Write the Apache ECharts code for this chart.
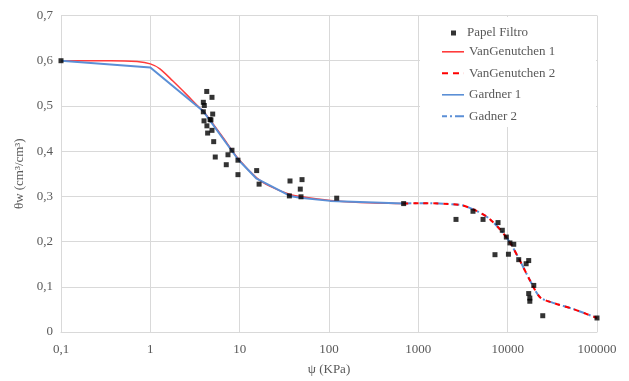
<!DOCTYPE html>
<html><head><meta charset="utf-8">
<script src="https://cdn.jsdelivr.net/npm/echarts@6/dist/echarts.min.js"></script>
<style>html,body{margin:0;padding:0;background:#fff;overflow:hidden}#c{width:629px;height:381px}</style>
</head><body><div id="c"></div>
<script>
// Papel Filtro measured points
const pfX = [0.1,4.28,4.9,3.92,4.02,3.92,4.99,3.99,4.66,4.77,4.3,4.9,4.38,5.12,5.33,8.2,7.4,9.57,7.08,9.57,15.5,16.5,36.6,36,49.9,47.7,48.6,122,685,2640,4090,5300,7800,8710,9660,10600,11700,7210,10200,13300,17200,16100,19600,17200,17700,17700,24700,100000];
const pfY = [0.6,0.532,0.519,0.508,0.501,0.487,0.482,0.467,0.470,0.469,0.456,0.446,0.440,0.421,0.387,0.402,0.392,0.380,0.370,0.348,0.357,0.327,0.334,0.301,0.337,0.316,0.299,0.296,0.284,0.249,0.267,0.249,0.242,0.225,0.210,0.197,0.194,0.171,0.172,0.160,0.158,0.151,0.103,0.085,0.075,0.068,0.036,0.031];
// VanGenutchen 1
const vg1X = [0.1,0.36,0.71,1.0,1.28,1.79,2.55,3.6,3.92,6.3,9.66,15.5,22,36.6,50,103,200,680];
const vg1Y = [0.6,0.600,0.598,0.593,0.582,0.555,0.525,0.495,0.489,0.434,0.383,0.341,0.322,0.304,0.299,0.291,0.287,0.284];
// Gardner 1
const gd1X = [0.1,1,3.92,9.66,15.5,36.6,47.3,103,680];
const gd1Y = [0.6,0.585,0.488,0.381,0.339,0.301,0.297,0.290,0.284];
// VanGenutchen 2
const vg2X = [680,1045,2930,4130,5830,8200,10600,13700,17800,23000,32200,53900,100000];
const vg2Y = [0.284,0.285,0.281,0.271,0.255,0.227,0.198,0.158,0.114,0.077,0.0645,0.051,0.031];
// Gadner 2
const gd2X = [680,1045,2930,4130,5830,8200,10600,13700,17800,23000,32200,53900,100000];
const gd2Y = [0.284,0.285,0.281,0.271,0.255,0.227,0.198,0.158,0.114,0.077,0.0645,0.051,0.031];

const zip = (a,b) => a.map((v,i)=>[v,b[i]]);
const FONT = 'Liberation Serif';
const GREY = '#595959';
const RED = '#FF3B3B';
const BLUE = '#5B8FD6';
const ICON_SOLID = 'path://M0,0h22v1.6h-22z';
const ICON_DASH = 'path://M0,0h6v2h-6zM11,0h6v2h-6zM21.9,0h0.1v2h-0.1z';
const ICON_DASHDOT = 'path://M0,0h5v2h-5zM8,0h2v2h-2zM13,0h9v2h-9z';

const chart = echarts.init(document.getElementById('c'), null, {renderer:'canvas'});
chart.setOption({
  animation:false,
  grid:{left:61,right:32,top:15.5,bottom:46},
  graphic:[{type:'rect',left:420,top:17,z:1,shape:{width:176,height:110},style:{fill:'#fff'}}],
  legend:[
    {data:['Papel Filtro'],orient:'vertical',left:451,top:26.5,padding:0,itemWidth:5,itemHeight:5,z:5,
     textStyle:{fontFamily:FONT,fontSize:13,color:GREY,padding:[0,0,0,6]}},
    {data:[{name:'VanGenutchen 1',icon:ICON_SOLID},{name:'VanGenutchen 2',icon:ICON_DASH},
           {name:'Gardner 1',icon:ICON_SOLID},{name:'Gadner 2',icon:ICON_DASHDOT}],
     orient:'vertical',left:442,top:45.3,padding:0,
     itemWidth:22,itemHeight:14,itemGap:8.5,z:5,
     textStyle:{fontFamily:FONT,fontSize:13,color:GREY}}
  ],
  xAxis:{type:'log',logBase:10,min:0.1,max:100000,
    name:'ψ (KPa)',nameLocation:'middle',nameGap:31,
    nameTextStyle:{fontFamily:FONT,fontSize:13,color:GREY},
    axisLine:{lineStyle:{color:'#D9D9D9'}},axisTick:{show:false},
    axisLabel:{fontFamily:FONT,fontSize:13,color:GREY,margin:11,
      formatter:v=>String(v).replace('.',',')},
    splitLine:{show:true,lineStyle:{color:'#D9D9D9'}}},
  yAxis:{type:'value',min:0,max:0.7,interval:0.1,
    name:'θw (cm³/cm³)',nameLocation:'middle',nameGap:35,
    nameTextStyle:{fontFamily:FONT,fontSize:13,color:GREY},
    axisLine:{show:true,lineStyle:{color:'#D9D9D9'}},axisTick:{show:false},
    axisLabel:{fontFamily:FONT,fontSize:13,color:GREY,margin:8,
      formatter:v=>String(Math.round(v*10)/10).replace('.',',')},
    splitLine:{show:true,lineStyle:{color:'#D9D9D9'}}},
  series:[
    {name:'VanGenutchen 1',type:'line',data:zip(vg1X,vg1Y),symbol:'none',smooth:0.3,z:2,
     lineStyle:{color:RED,width:1.5},itemStyle:{color:RED}},
    {name:'Gardner 1',type:'line',data:zip(gd1X,gd1Y),symbol:'none',z:3,
     lineStyle:{color:BLUE,width:2},itemStyle:{color:BLUE}},
    {name:'Gadner 2',type:'line',data:zip(gd2X,gd2Y),symbol:'none',smooth:0.3,z:2,
     lineStyle:{color:BLUE,width:2,type:[8,3,2,3]},itemStyle:{color:BLUE}},
    {name:'VanGenutchen 2',type:'line',data:zip(vg2X,vg2Y),symbol:'none',smooth:0.3,z:3,
     lineStyle:{color:'#FF0000',width:2,type:[5,5]},itemStyle:{color:'#FF0000'}},
    {name:'Papel Filtro',type:'scatter',data:zip(pfX,pfY),symbol:'rect',symbolSize:5,z:4,
     itemStyle:{color:'#000'}}
  ]
});
</script></body></html>
